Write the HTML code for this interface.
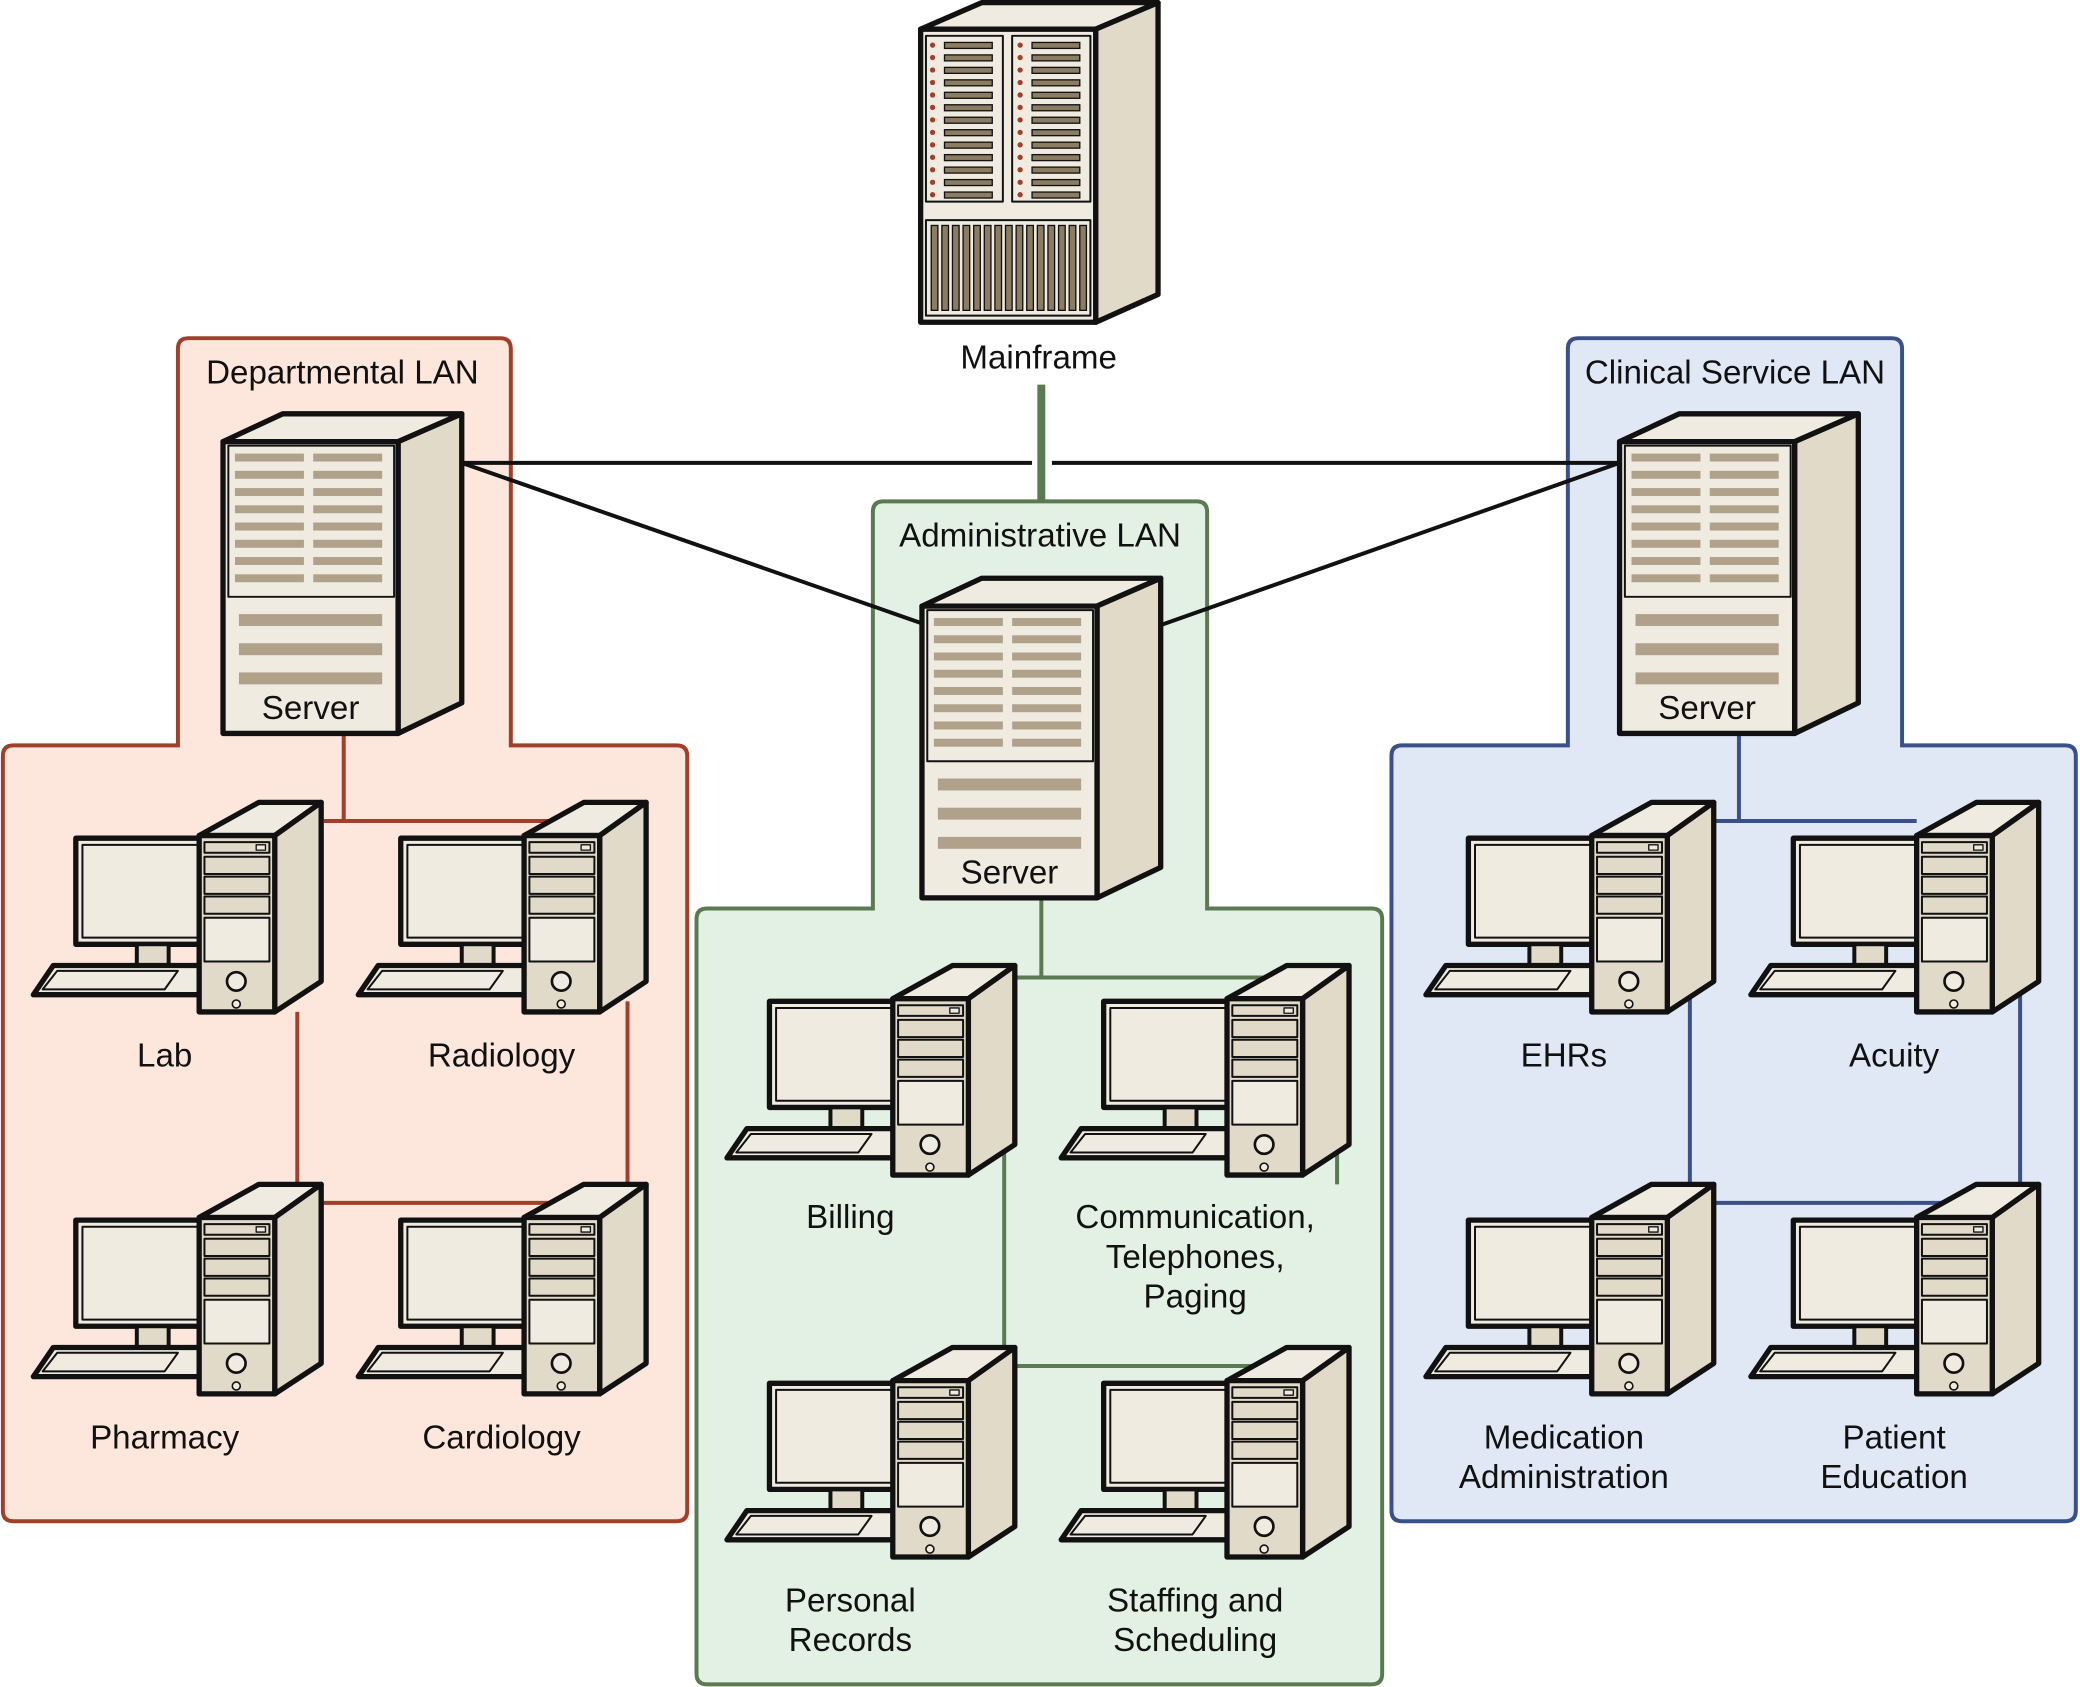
<!DOCTYPE html>
<html><head><meta charset="utf-8"><style>
html,body{margin:0;padding:0;background:#fff}
svg{display:block}
text{font-family:"Liberation Sans",sans-serif;font-size:25px;fill:#111;text-anchor:middle}
</style></head><body>
<svg width="2080" height="1687" viewBox="0 0 1568 1272" xmlns="http://www.w3.org/2000/svg">
<defs>
<g id="pc" stroke="#111" stroke-linejoin="round">
  <rect x="-93" y="2" width="97" height="80" fill="#efebe0" stroke-width="4"/>
  <rect x="-88" y="7" width="88" height="70" fill="#efebe0" stroke-width="1.5"/>
  <rect x="-47" y="82" width="24" height="16" fill="#e2dac8" stroke-width="3"/>
  <polygon points="-125,120 -110,98 2,98 2,120" fill="#efebe0" stroke-width="4"/>
  <polygon points="-118,116 -107,102 -16,102 -26,116" fill="#efebe0" stroke-width="1.5"/>
  <polygon points="0,0 45,-25 92,-25 57,0" fill="#efebe0" stroke-width="4"/>
  <polygon points="57,0 92,-25 92,110 57,133" fill="#e2dac8" stroke-width="4"/>
  <rect x="0" y="0" width="57" height="133" fill="#e2dac8" stroke-width="4"/>
  <rect x="4" y="5" width="49" height="8" fill="#e2dac8" stroke-width="1.5"/>
  <rect x="43" y="7" width="7" height="4" fill="#efebe0" stroke-width="1"/>
  <rect x="4" y="16" width="49" height="13" fill="#e2dac8" stroke-width="1.5"/>
  <rect x="4" y="31" width="49" height="13" fill="#e2dac8" stroke-width="1.5"/>
  <rect x="4" y="46" width="49" height="13" fill="#e2dac8" stroke-width="1.5"/>
  <rect x="4" y="62" width="49" height="33" fill="#efebe0" stroke-width="1.5"/>
  <circle cx="28" cy="110" r="7" fill="#efebe0" stroke-width="2"/>
  <circle cx="28" cy="127" r="3" fill="#efebe0" stroke-width="1.2"/>
</g>
<g id="slots">
  <rect x="0" y="0" width="52" height="6" fill="#b0a28a"/>
  <rect x="0" y="13" width="52" height="6" fill="#b0a28a"/>
  <rect x="0" y="26" width="52" height="6" fill="#b0a28a"/>
  <rect x="0" y="39" width="52" height="6" fill="#b0a28a"/>
  <rect x="0" y="52" width="52" height="6" fill="#b0a28a"/>
  <rect x="0" y="65" width="52" height="6" fill="#b0a28a"/>
  <rect x="0" y="78" width="52" height="6" fill="#b0a28a"/>
  <rect x="0" y="91" width="52" height="6" fill="#b0a28a"/>
</g>
<g id="srv" stroke-linejoin="round">
  <polygon points="0,0 45,-21 180,-21 132,0" fill="#efebe0" stroke="#111" stroke-width="4"/>
  <polygon points="132,0 180,-21 180,197 132,220" fill="#e2dac8" stroke="#111" stroke-width="4"/>
  <rect x="0" y="0" width="132" height="220" fill="#efebe0" stroke="#111" stroke-width="4"/>
  <rect x="4" y="3" width="125" height="114" fill="#efebe0" stroke="#111" stroke-width="1.5"/>
  <use href="#slots" x="9" y="9"/>
  <use href="#slots" x="68" y="9"/>
  <rect x="12" y="130" width="108" height="9" fill="#b0a28a"/>
  <rect x="12" y="152" width="108" height="9" fill="#b0a28a"/>
  <rect x="12" y="174" width="108" height="9" fill="#b0a28a"/>
  <text x="66" y="209">Server</text>
</g>
</defs>

<path d="M142,255 H377 Q385,255 385,263 V562 H510 Q518,562 518,570 V1139 Q518,1147 510,1147 H10 Q2,1147 2,1139 V570 Q2,562 10,562 H134 V263 Q134,255 142,255 Z" fill="#fde6dc" stroke="#a0402a" stroke-width="3"/>
<path d="M666,378 H902 Q910,378 910,386 V685 H1034 Q1042,685 1042,693 V1262 Q1042,1270 1034,1270 H533 Q525,1270 525,1262 V693 Q525,685 533,685 H658 V386 Q658,378 666,378 Z" fill="#e3f0e4" stroke="#5a7a52" stroke-width="3"/>
<path d="M1190,255 H1426 Q1434,255 1434,263 V562 H1557 Q1565,562 1565,570 V1139 Q1565,1147 1557,1147 H1057 Q1049,1147 1049,1139 V570 Q1049,562 1057,562 H1182 V263 Q1182,255 1190,255 Z" fill="#e1e8f5" stroke="#3a5088" stroke-width="3"/>

<text x="258" y="289">Departmental LAN</text>
<text x="784" y="412">Administrative LAN</text>
<text x="1308" y="289">Clinical Service LAN</text>
<text x="783" y="278">Mainframe</text>

<g stroke-width="3" fill="none">
<line x1="785" y1="290" x2="785" y2="378" stroke="#5a7a52" stroke-width="6"/>
<line x1="348" y1="349" x2="778" y2="349" stroke="#111"/>
<line x1="793" y1="349" x2="1221" y2="349" stroke="#111"/>
<line x1="348" y1="349" x2="695" y2="470" stroke="#111"/>
<line x1="876" y1="471" x2="1221" y2="349" stroke="#111"/>
<path d="M259,553 V619 M244,619 H420 M224,763 V907 M473,755 V895 M224,907 H473" stroke="#a0402a"/>
<path d="M785,676 V737 M766,737 H960 M757,865 V1030 M757,1030 H1010 M1008,865 V893" stroke="#5a7a52"/>
<path d="M1311,553 V619 M1290,619 H1445 M1274,750 V907 M1523,740 V895 M1274,907 H1523" stroke="#3a5088"/>
</g>

<g stroke-linejoin="round">
<polygon points="694,22 740,2 873,2 826,22" fill="#efebe0" stroke="#111" stroke-width="4"/>
<polygon points="826,22 873,2 873,222 826,243" fill="#e2dac8" stroke="#111" stroke-width="4"/>
<rect x="694" y="22" width="132" height="221" fill="#efebe0" stroke="#111" stroke-width="4"/>
<rect x="698" y="27" width="58" height="125" fill="#efebe0" stroke="#111" stroke-width="1.5"/>
<rect x="763" y="27" width="59" height="125" fill="#efebe0" stroke="#111" stroke-width="1.5"/>
<rect x="698" y="166" width="124" height="72" fill="#efebe0" stroke="#111" stroke-width="1.5"/>
</g>
<g id="mfcol">
<g fill="#a0402a">
<circle cx="703" cy="34" r="2"/><circle cx="703" cy="43.4" r="2"/><circle cx="703" cy="52.8" r="2"/><circle cx="703" cy="62.2" r="2"/><circle cx="703" cy="71.6" r="2"/><circle cx="703" cy="81" r="2"/><circle cx="703" cy="90.4" r="2"/><circle cx="703" cy="99.8" r="2"/><circle cx="703" cy="109.2" r="2"/><circle cx="703" cy="118.6" r="2"/><circle cx="703" cy="128" r="2"/><circle cx="703" cy="137.4" r="2"/><circle cx="703" cy="146.8" r="2"/>
</g>
<g fill="#8c7c62" stroke="#111" stroke-width="1">
<rect x="712" y="32" width="36" height="4.5"/><rect x="712" y="41.4" width="36" height="4.5"/><rect x="712" y="50.8" width="36" height="4.5"/><rect x="712" y="60.2" width="36" height="4.5"/><rect x="712" y="69.6" width="36" height="4.5"/><rect x="712" y="79" width="36" height="4.5"/><rect x="712" y="88.4" width="36" height="4.5"/><rect x="712" y="97.8" width="36" height="4.5"/><rect x="712" y="107.2" width="36" height="4.5"/><rect x="712" y="116.6" width="36" height="4.5"/><rect x="712" y="126" width="36" height="4.5"/><rect x="712" y="135.4" width="36" height="4.5"/><rect x="712" y="144.8" width="36" height="4.5"/>
</g>
</g>
<use href="#mfcol" x="66" y="0"/>
<g fill="#8c7c62" stroke="#111" stroke-width="1">
<rect x="702" y="170" width="5" height="64"/><rect x="710" y="170" width="5" height="64"/><rect x="718" y="170" width="5" height="64"/><rect x="726" y="170" width="5" height="64"/><rect x="734" y="170" width="5" height="64"/><rect x="742" y="170" width="5" height="64"/><rect x="750" y="170" width="5" height="64"/><rect x="758" y="170" width="5" height="64"/><rect x="766" y="170" width="5" height="64"/><rect x="774" y="170" width="5" height="64"/><rect x="782" y="170" width="5" height="64"/><rect x="790" y="170" width="5" height="64"/><rect x="798" y="170" width="5" height="64"/><rect x="806" y="170" width="5" height="64"/><rect x="814" y="170" width="5" height="64"/>
</g>

<use href="#srv" x="168" y="333"/>
<use href="#srv" x="695" y="457"/>
<use href="#srv" x="1221" y="333"/>

<use href="#pc" x="150" y="630"/>
<use href="#pc" x="395" y="630"/>
<use href="#pc" x="150" y="918"/>
<use href="#pc" x="395" y="918"/>
<use href="#pc" x="673" y="753"/>
<use href="#pc" x="925" y="753"/>
<use href="#pc" x="673" y="1041"/>
<use href="#pc" x="925" y="1041"/>
<use href="#pc" x="1200" y="630"/>
<use href="#pc" x="1445" y="630"/>
<use href="#pc" x="1200" y="918"/>
<use href="#pc" x="1445" y="918"/>

<text x="124" y="804">Lab</text>
<text x="378" y="804">Radiology</text>
<text x="124" y="1092">Pharmacy</text>
<text x="378" y="1092">Cardiology</text>
<text x="641" y="926">Billing</text>
<text x="901" y="926">Communication,</text>
<text x="901" y="956">Telephones,</text>
<text x="901" y="986">Paging</text>
<text x="641" y="1215">Personal</text>
<text x="641" y="1245">Records</text>
<text x="901" y="1215">Staffing and</text>
<text x="901" y="1245">Scheduling</text>
<text x="1179" y="804">EHRs</text>
<text x="1428" y="804">Acuity</text>
<text x="1179" y="1092">Medication</text>
<text x="1179" y="1122">Administration</text>
<text x="1428" y="1092">Patient</text>
<text x="1428" y="1122">Education</text>
</svg>
</body></html>
